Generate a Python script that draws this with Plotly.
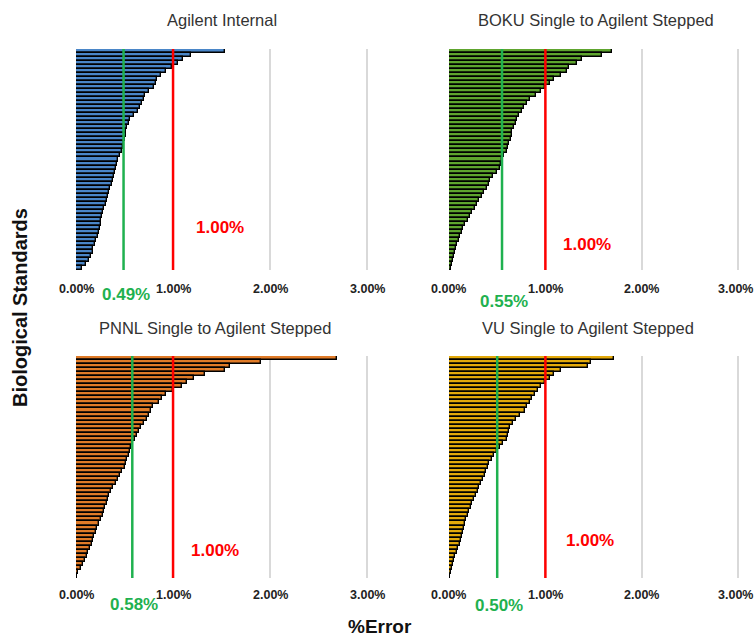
import plotly.graph_objects as go

titles = ["Agilent Internal", "BOKU Single to Agilent Stepped",
          "PNNL Single to Agilent Stepped", "VU Single to Agilent Stepped"]

agilent = [1.54, 1.18, 1.10, 1.05, 0.99, 0.93, 0.88, 0.83, 0.82, 0.80, 0.75, 0.71, 0.70, 0.68,
           0.66, 0.64, 0.60, 0.56, 0.55, 0.53, 0.52, 0.51, 0.50, 0.49, 0.48, 0.47, 0.45, 0.43,
           0.42, 0.41, 0.40, 0.39, 0.38, 0.37, 0.35, 0.34, 0.33, 0.32, 0.31, 0.29, 0.28, 0.27,
           0.26, 0.26, 0.25, 0.24, 0.23, 0.21, 0.20, 0.18, 0.17, 0.15, 0.13, 0.10, 0.06]
boku = [1.69, 1.59, 1.38, 1.33, 1.24, 1.22, 1.16, 1.09, 1.05, 1.00, 0.95, 0.90, 0.84, 0.81,
        0.78, 0.76, 0.73, 0.71, 0.69, 0.67, 0.65, 0.65, 0.64, 0.62, 0.61, 0.60, 0.57, 0.55,
        0.54, 0.53, 0.50, 0.46, 0.43, 0.41, 0.39, 0.36, 0.34, 0.31, 0.29, 0.27, 0.24, 0.22,
        0.20, 0.17, 0.15, 0.13, 0.11, 0.10, 0.08, 0.07, 0.06, 0.05, 0.04, 0.03, 0.02]
pnnl = [2.69, 1.91, 1.59, 1.54, 1.33, 1.22, 1.14, 1.09, 1.00, 0.93, 0.89, 0.86, 0.79, 0.77,
        0.75, 0.73, 0.70, 0.67, 0.65, 0.63, 0.61, 0.59, 0.57, 0.56, 0.55, 0.53, 0.52, 0.50,
        0.47, 0.45, 0.43, 0.41, 0.38, 0.36, 0.34, 0.33, 0.32, 0.30, 0.29, 0.28, 0.26, 0.24,
        0.22, 0.21, 0.19, 0.18, 0.16, 0.14, 0.12, 0.11, 0.09, 0.07, 0.05, 0.02, 0.01]
vu = [1.71, 1.47, 1.44, 1.16, 1.09, 1.05, 1.00, 0.95, 0.92, 0.89, 0.86, 0.84, 0.81, 0.79,
      0.74, 0.70, 0.66, 0.63, 0.62, 0.61, 0.60, 0.56, 0.53, 0.50, 0.47, 0.45, 0.42, 0.40,
      0.38, 0.37, 0.35, 0.33, 0.31, 0.30, 0.28, 0.26, 0.24, 0.23, 0.21, 0.20, 0.18, 0.17,
      0.16, 0.15, 0.13, 0.12, 0.11, 0.09, 0.08, 0.06, 0.05, 0.04, 0.03, 0.02, 0.01]
medians = [0.49, 0.55, 0.58, 0.50]
threshold = 1.00
tick_vals = [0, 1, 2, 3]
tick_text = ["0.00%", "1.00%", "2.00%", "3.00%"]

series = [agilent, boku, pnnl, vu]
colors = ["#4a86c8", "#5ea52e", "#e07b28", "#e3a90a"]

W, H = 754, 638
FONT = "Liberation Sans, Arial, sans-serif"
# pixel layout of the four panels (left, right, top, bottom)
boxes = [(76, 372, 49, 270), (449, 743, 49, 270), (76, 372, 356, 578), (449, 743, 356, 578)]
tick_lab_y = [289, 289, 595, 595]
title_pos = [(222, 20), (596, 20), (215, 328), (588, 328)]
med_lab_y = [294, 301, 604, 605]
red_lab = [(220, 228), (587, 245), (215, 550), (590, 540)]

fig = go.Figure()
layout = dict(width=W, height=H, margin=dict(l=0, r=0, t=0, b=0, autoexpand=False),
              paper_bgcolor="white", plot_bgcolor="white", showlegend=False,
              bargap=0, font=dict(family=FONT))
annotations = []
shapes = []
for k in range(4):
    xa = "x" if k == 0 else f"x{k+1}"
    ya = "y" if k == 0 else f"y{k+1}"
    vals = series[k]
    cats = list(range(len(vals)))
    fig.add_trace(go.Bar(x=vals, y=cats, orientation="h", xaxis=xa, yaxis=ya,
                         marker=dict(color=colors[k], line=dict(color="black", width=1.4)),
                         hoverinfo="x"))
    l, r, t, b = boxes[k]
    layout["xaxis" if k == 0 else f"xaxis{k+1}"] = dict(
        domain=[l / W, r / W], range=[0, 3.05], anchor=ya, automargin=False,
        tickvals=tick_vals, showticklabels=False, showgrid=True,
        gridcolor="#d9d9d9", gridwidth=1.5, zeroline=False, showline=False,
        ticks="", fixedrange=True)
    layout["yaxis" if k == 0 else f"yaxis{k+1}"] = dict(
        domain=[1 - b / H, 1 - t / H], anchor=xa, automargin=False,
        showticklabels=False, showgrid=False, zeroline=False, showline=False,
        ticks="", range=[len(vals) - 0.5, -0.5])
    for tv, tt in zip(tick_vals, tick_text):
        shift = -3 if (k % 2 == 1 and tv == tick_vals[-1]) else 0
        annotations.append(dict(text=tt, x=tv, xref=xa, y=1 - tick_lab_y[k] / H, yref="paper",
                                showarrow=False, xanchor="center", yanchor="middle",
                                xshift=shift,
                                font=dict(size=12.5, color="#222", weight="bold")))
    shapes.append(dict(type="line", xref=xa, yref=f"{ya} domain", x0=medians[k], x1=medians[k],
                       y0=0, y1=1, line=dict(color="#1fb14f", width=2.5), layer="above"))
    shapes.append(dict(type="line", xref=xa, yref=f"{ya} domain", x0=threshold, x1=threshold,
                       y0=0, y1=1, line=dict(color="#ff0000", width=2.5), layer="above"))
    tx, ty = title_pos[k]
    annotations.append(dict(text=titles[k], x=tx / W, y=1 - ty / H, xref="paper", yref="paper",
                            showarrow=False, xanchor="center", yanchor="middle",
                            font=dict(size=16.5, color="#333")))
    annotations.append(dict(text=f"{medians[k]:.2f}%", x=medians[k] + 0.02, xref=xa,
                            y=1 - med_lab_y[k] / H, yref="paper", showarrow=False,
                            xanchor="center", yanchor="middle",
                            font=dict(size=17, color="#1fb14f", weight="bold")))
    rx, ry = red_lab[k]
    annotations.append(dict(text=f"{threshold:.2f}%", x=rx / W, y=1 - ry / H, xref="paper",
                            yref="paper", showarrow=False, xanchor="center", yanchor="middle",
                            font=dict(size=17, color="#ff0000", weight="bold")))

annotations.append(dict(text="Biological Standards", x=20 / W, y=1 - 308 / H, xref="paper",
                        yref="paper", showarrow=False, textangle=-90, xanchor="center",
                        yanchor="middle", font=dict(size=20, color="#111", weight="bold")))
annotations.append(dict(text="%Error", x=380 / W, y=1 - 626 / H, xref="paper", yref="paper",
                        showarrow=False, xanchor="center", yanchor="middle",
                        font=dict(size=19, color="#111", weight="bold")))
layout["annotations"] = annotations
layout["shapes"] = shapes
fig.update_layout(**layout)
fig.write_html("out.html")
